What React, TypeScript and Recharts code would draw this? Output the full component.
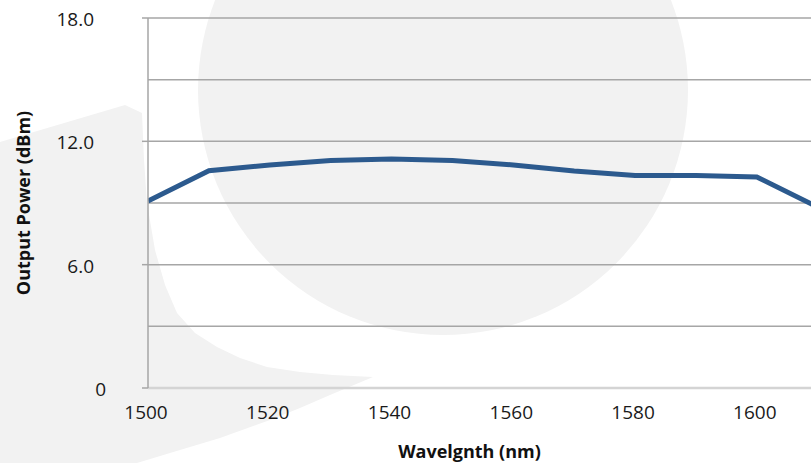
import React from 'react';
import { LineChart, Line, XAxis, YAxis, CartesianGrid } from 'recharts';

const wavelengths = [1500, 1510, 1520, 1530, 1540, 1550, 1560, 1570, 1580, 1590, 1600, 1610];
const outputPower = [9.1, 10.57, 10.85, 11.07, 11.14, 11.07, 10.85, 10.56, 10.34, 10.34, 10.27, 8.8];
const xTicks = [1500, 1520, 1540, 1560, 1580, 1600];
const yTicks = [0, 3, 6, 9, 12, 15, 18];
const yLabelTicks = [0, 6, 12, 18];

const data = wavelengths.map((w, i) => ({ w, p: outputPower[i] }));

const FONT = '"Open Sans", Lato, sans-serif';

const YTick = (props: any) => {
  const { x, y, payload } = props;
  const v = payload.value;
  if (!yLabelTicks.includes(v)) return <g />;
  const label = v === 0 ? '0' : v.toFixed(1);
  const endX = v === 0 ? x - 42 : x - 54;
  return (
    <g>
      <line x1={x - 6} x2={x} y1={y} y2={y} stroke="#a6a6a6" strokeWidth={1.5} />
      <text x={endX} y={y + 1} dy="0.36em" textAnchor="end" fontSize={19} fontFamily={FONT} fill="#1a1a1a">
        {label}
      </text>
    </g>
  );
};

const XTick = (props: any) => {
  const { x, y, payload } = props;
  return (
    <text x={x - 2} y={y + 24} dy="0.36em" textAnchor="middle" fontSize={19} fontFamily={FONT} fill="#1a1a1a">
      {payload.value}
    </text>
  );
};

const XTitle = (props: any) => {
  const vb = props.viewBox;
  return (
    <text x={vb.x + vb.width / 2 - 10} y={vb.y + 64} dy="0.36em" textAnchor="middle" fontSize={18} fontWeight="bold" fontFamily={FONT} fill="#111">
      Wavelgnth (nm)
    </text>
  );
};

const YTitle = (props: any) => {
  const vb = props.viewBox;
  const cx = 24;
  const cy = vb.y + vb.height / 2;
  return (
    <text x={cx} y={cy} dy="0.36em" textAnchor="middle" fontSize={18} fontWeight="bold" fontFamily={FONT} fill="#111" transform={`rotate(-90 ${cx} ${cy})`}>
      Output Power (dBm)
    </text>
  );
};

const crescent = [
  [0, 142], [125, 105], [142, 113], [144, 160], [147, 203], [155, 250], [165, 285], [177, 313],
  [195, 333], [217, 347], [240, 358], [267, 367], [300, 372], [333, 375], [373, 377],
  [330, 395], [300, 408], [270, 420], [220, 438], [170, 453], [137, 463], [0, 463],
];

export default function App() {
  return (
    <div style={{ position: 'absolute', left: 0, top: 0, width: 811, height: 463, background: '#fff', overflow: 'hidden' }}>
      <svg width={811} height={463} style={{ position: 'absolute', left: 0, top: 0 }}>
        <circle cx={443} cy={90} r={245} fill="#f2f2f2" />
        <polygon points={crescent.map((p) => p.join(',')).join(' ')} fill="#f2f2f2" />
      </svg>
      <div style={{ position: 'absolute', left: 0, top: 0 }}>
        <LineChart width={811} height={463} data={data} margin={{ top: 18, right: 0, bottom: 0, left: 0 }}>
          <CartesianGrid horizontal vertical={false} stroke="#a6a6a6" strokeWidth={1.5} />
          <XAxis
            dataKey="w"
            type="number"
            domain={[1500, 1608.9]}
            allowDataOverflow
            ticks={xTicks}
            height={75}
            tickLine={false}
            tickSize={0}
            tickMargin={0}
            tick={<XTick />}
            axisLine={{ stroke: '#d4d4d4', strokeWidth: 2.5 }}
            label={<XTitle />}
          />
          <YAxis
            type="number"
            domain={[0, 18]}
            ticks={yTicks}
            width={148}
            tickLine={false}
            tickSize={0}
            tickMargin={0}
            tick={<YTick />}
            axisLine={{ stroke: '#a6a6a6', strokeWidth: 1.5 }}
            label={<YTitle />}
          />
          <Line
            dataKey="p"
            stroke="#2c5a8e"
            strokeWidth={5}
            dot={false}
            activeDot={false}
            isAnimationActive={false}
            strokeLinejoin="miter"
          />
        </LineChart>
      </div>
    </div>
  );
}
